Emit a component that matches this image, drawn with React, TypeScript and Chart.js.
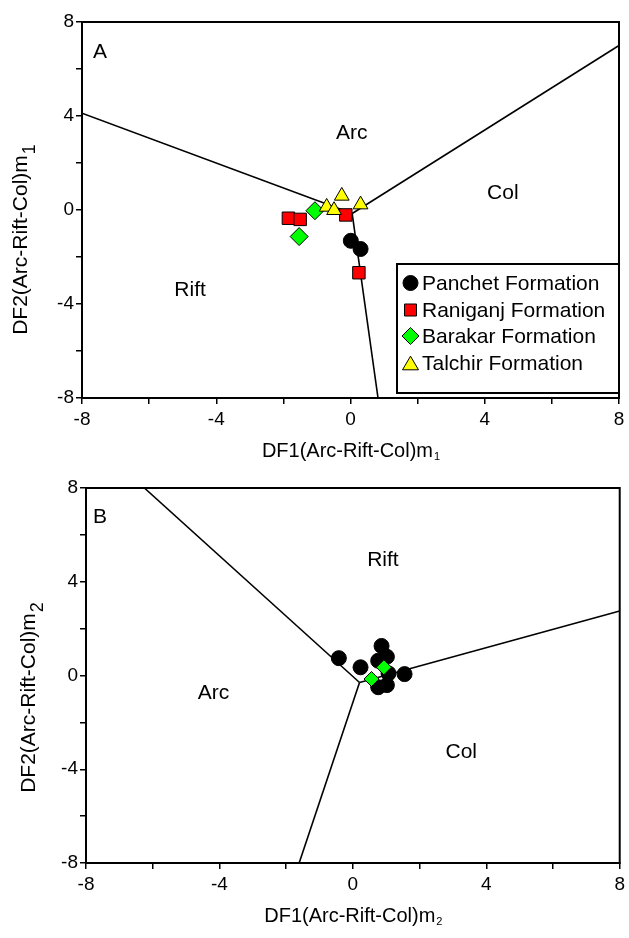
import React, { useEffect, useRef } from 'react';
import { Chart, registerables } from 'chart.js';
Chart.register(...registerables);

const FONT = "'Liberation Sans', Arial, Helvetica, sans-serif";

// ---- axis ticks ----
const tickValues = [-8, -6, -4, -2, 0, 2, 4, 6, 8];
const tickLabels = ['-8', '', '-4', '', '0', '', '4', '', '8'];

// ---- Panel A data ----
const A_panchetX = [0.01, 0.30];
const A_panchetY = [-1.31, -1.66];
const A_raniganjX = [-1.85, -1.5, -0.14, 0.25];
const A_raniganjY = [-0.35, -0.4, -0.21, -2.67];
const A_barakarX = [-1.06, -1.53];
const A_barakarY = [-0.03, -1.13];
const A_talchirX = [-0.26, -0.71, -0.49, 0.3];
const A_talchirY = [0.6, 0.13, -0.01, 0.23];

const A_line1X = [-8, 0.05];
const A_line1Y = [4.12, -0.15];
const A_line2X = [0.05, 8];
const A_line2Y = [-0.15, 7.0];
const A_line3X = [0.05, 0.82];
const A_line3Y = [-0.15, -8];

const A_regionText = ['A', 'Arc', 'Col', 'Rift'];
const A_regionX = [-7.46, 0.04, 4.54, -4.78];
const A_regionY = [6.72, 3.28, 0.72, -3.4];

// ---- Panel B data ----
const B_panchetX = [-0.42, 0.23, 0.86, 0.76, 1.02, 1.55, 0.76, 1.02, 1.07];
const B_panchetY = [0.74, 0.35, 1.26, 0.63, 0.8, 0.06, -0.5, -0.41, 0.09];
const B_barakarX = [0.93, 0.56];
const B_barakarY = [0.35, -0.15];

const B_line1X = [-6.25, 0.2];
const B_line1Y = [8, -0.3];
const B_line2X = [0.2, 8];
const B_line2Y = [-0.3, 2.75];
const B_line3X = [0.2, -1.61];
const B_line3Y = [-0.3, -8];

const B_regionText = ['B', 'Rift', 'Arc', 'Col'];
const B_regionX = [-7.58, 0.9, -4.18, 3.25];
const B_regionY = [6.76, 4.93, -0.75, -3.26];

// ---- legend ----
const legendNames = ['Panchet Formation', 'Raniganj Formation', 'Barakar Formation', 'Talchir Formation'];
const legendColors = ['#000000', '#ff0000', '#00ff00', '#ffff00'];
const legendShapes = ['circle', 'rect', 'rectRot', 'triangle'];

const pts = (xs: number[], ys: number[]) => xs.map((x, i) => ({ x, y: ys[i] }));

function lineDs(xs: number[], ys: number[]) {
  return {
    data: pts(xs, ys),
    showLine: true,
    borderColor: '#000',
    borderWidth: 1.6,
    pointRadius: 0,
    order: 10,
    fill: false,
  };
}

function pointDs(xs: number[], ys: number[], color: string, style: string, r: number, order: number) {
  return {
    data: pts(xs, ys),
    showLine: false,
    backgroundColor: color,
    borderColor: '#000',
    borderWidth: 1,
    pointStyle: style,
    pointRadius: r,
    order,
  };
}

function drawMarker(ctx: CanvasRenderingContext2D, shape: string, x: number, y: number, s: number, color: string) {
  ctx.beginPath();
  if (shape === 'circle') {
    ctx.arc(x, y, s / 2, 0, Math.PI * 2);
  } else if (shape === 'rect') {
    ctx.rect(x - s / 2, y - s / 2, s, s);
  } else if (shape === 'rectRot') {
    ctx.moveTo(x - s / 2, y);
    ctx.lineTo(x, y - s / 2);
    ctx.lineTo(x + s / 2, y);
    ctx.lineTo(x, y + s / 2);
    ctx.closePath();
  } else {
    const h = s * 0.85;
    ctx.moveTo(x, y - h / 2);
    ctx.lineTo(x + s / 2, y + h / 2);
    ctx.lineTo(x - s / 2, y + h / 2);
    ctx.closePath();
  }
  ctx.fillStyle = color;
  ctx.fill();
  ctx.strokeStyle = '#000';
  ctx.lineWidth = 1;
  ctx.stroke();
}

interface PanelOpts {
  regionText: string[];
  regionX: number[];
  regionY: number[];
  xTitle: string;
  sub: string;
  xTitleY: number;
  yTitleX: number;
  yTitleCY: number;
  legend: boolean;
}

function decorPlugin(o: PanelOpts) {
  return {
    id: 'decor',
    afterDraw(chart: any) {
      const { ctx, chartArea: a } = chart;
      const xs = chart.scales.x;
      const ys = chart.scales.y;
      ctx.save();
      ctx.strokeStyle = '#000';
      ctx.lineWidth = 2;
      ctx.strokeRect(a.left, a.top, a.right - a.left, a.bottom - a.top);

      ctx.fillStyle = '#000';
      ctx.font = `21px ${FONT}`;
      ctx.textAlign = 'center';
      ctx.textBaseline = 'middle';
      o.regionText.forEach((t, i) => {
        ctx.fillText(t, xs.getPixelForValue(o.regionX[i]), ys.getPixelForValue(o.regionY[i]));
      });

      // x title
      const cx = (a.left + a.right) / 2;
      ctx.textAlign = 'left';
      ctx.textBaseline = 'alphabetic';
      ctx.font = `20px ${FONT}`;
      const w1 = ctx.measureText(o.xTitle).width;
      ctx.font = `11px ${FONT}`;
      const w2 = ctx.measureText(o.sub).width;
      const sx = cx - (w1 + w2) / 2;
      ctx.font = `20px ${FONT}`;
      ctx.fillText(o.xTitle, sx, o.xTitleY);
      ctx.font = `11px ${FONT}`;
      ctx.fillText(o.sub, sx + w1 + 1, o.xTitleY + 3);

      // y title
      const yt = o.xTitle.replace('DF1', 'DF2');
      ctx.save();
      ctx.translate(o.yTitleX, o.yTitleCY);
      ctx.rotate(-Math.PI / 2);
      ctx.font = `21px ${FONT}`;
      const v1 = ctx.measureText(yt).width;
      ctx.font = `18px ${FONT}`;
      const v2 = ctx.measureText(o.sub).width;
      const vx = -(v1 + v2) / 2;
      ctx.font = `21px ${FONT}`;
      ctx.fillText(yt, vx, 7);
      ctx.font = `18px ${FONT}`;
      ctx.fillText(o.sub, vx + v1 + 1, 15);
      ctx.restore();

      if (o.legend) {
        const lx = 397, ly = 264, lw = a.right - 397, lh = 129;
        ctx.fillStyle = '#fff';
        ctx.fillRect(lx, ly, lw, lh);
        ctx.strokeStyle = '#000';
        ctx.lineWidth = 2;
        ctx.strokeRect(lx, ly, lw, lh);
        const rows = [283, 310, 336, 363];
        const sizes = [15, 12, 17, 16];
        legendNames.forEach((n, i) => {
          drawMarker(ctx, legendShapes[i], 410.5, rows[i], sizes[i], legendColors[i]);
          ctx.fillStyle = '#000';
          ctx.font = `21px ${FONT}`;
          ctx.textAlign = 'left';
          ctx.textBaseline = 'middle';
          ctx.fillText(n, 422, rows[i] + 1);
        });
      }
      ctx.restore();
    },
  };
}

function scalesCfg(yWidth: number, xHeight: number) {
  const common = {
    type: 'linear',
    min: -8,
    max: 8,
    afterBuildTicks: (s: any) => {
      s.ticks = tickValues.map((v) => ({ value: v }));
    },
    grid: { drawOnChartArea: false, drawTicks: true, tickLength: 6, color: '#000', lineWidth: 1.5 },
    border: { display: true, color: '#000', width: 2 },
  };
  return {
    x: {
      ...common,
      position: 'bottom',
      ticks: {
        autoSkip: false,
        maxRotation: 0,
        color: '#000',
        font: { family: FONT, size: 19 },
        padding: 4,
        callback: (_v: any, i: number) => tickLabels[i],
      },
      afterFit: (s: any) => {
        s.height = xHeight;
      },
    },
    y: {
      ...common,
      position: 'left',
      ticks: {
        autoSkip: false,
        color: '#000',
        font: { family: FONT, size: 19 },
        padding: 2,
        callback: (_v: any, i: number) => tickLabels[i],
      },
      afterFit: (s: any) => {
        s.width = yWidth;
      },
    },
  };
}

function makeChart(canvas: HTMLCanvasElement, datasets: any[], padTop: number, padRight: number, yW: number, xH: number, o: PanelOpts) {
  return new Chart(canvas, {
    type: 'scatter',
    data: { datasets },
    options: {
      responsive: false,
      animation: false,
      devicePixelRatio: 1,
      layout: { padding: { top: padTop, right: padRight, left: 0, bottom: 0 } },
      plugins: { legend: { display: false }, tooltip: { enabled: false } },
      scales: scalesCfg(yW, xH) as any,
    },
    plugins: [decorPlugin(o)],
  } as any);
}

export default function App() {
  const refA = useRef<HTMLCanvasElement>(null);
  const refB = useRef<HTMLCanvasElement>(null);

  useEffect(() => {
    const dsA = [
      pointDs(A_talchirX, A_talchirY, '#ffff00', 'triangle', 8.5, 1),
      pointDs(A_barakarX, A_barakarY, '#00ff00', 'rectRot', 9, 2),
      pointDs(A_raniganjX, A_raniganjY, '#ff0000', 'rect', 8.8, 3),
      pointDs(A_panchetX, A_panchetY, '#000000', 'circle', 7.5, 4),
      lineDs(A_line1X, A_line1Y),
      lineDs(A_line2X, A_line2Y),
      lineDs(A_line3X, A_line3Y),
    ];
    const dsB = [
      pointDs(B_barakarX, B_barakarY, '#00ff00', 'rectRot', 7.5, 1),
      pointDs(B_panchetX, B_panchetY, '#000000', 'circle', 7.5, 2),
      lineDs(B_line1X, B_line1Y),
      lineDs(B_line2X, B_line2Y),
      lineDs(B_line3X, B_line3Y),
    ];
    const cA = makeChart(refA.current!, dsA, 22, 10, 82, 80, {
      regionText: A_regionText,
      regionX: A_regionX,
      regionY: A_regionY,
      xTitle: 'DF1(Arc-Rift-Col)m',
      sub: '1',
      xTitleY: 457,
      yTitleX: 20,
      yTitleCY: 240,
      legend: true,
    });
    const cB = makeChart(refB.current!, dsB, 28, 7, 86, 75, {
      regionText: B_regionText,
      regionX: B_regionX,
      regionY: B_regionY,
      xTitle: 'DF1(Arc-Rift-Col)m',
      sub: '2',
      xTitleY: 462,
      yTitleX: 28,
      yTitleCY: 238,
      legend: false,
    });
    return () => {
      cA.destroy();
      cB.destroy();
    };
  }, []);

  return (
    <div style={{ position: 'absolute', left: 0, top: 0, width: 629, height: 938, background: '#fff' }}>
      <canvas ref={refA} width={629} height={478} style={{ position: 'absolute', left: 0, top: 0, width: 629, height: 478 }} />
      <canvas ref={refB} width={629} height={478} style={{ position: 'absolute', left: 0, top: 460, width: 629, height: 478 }} />
    </div>
  );
}
